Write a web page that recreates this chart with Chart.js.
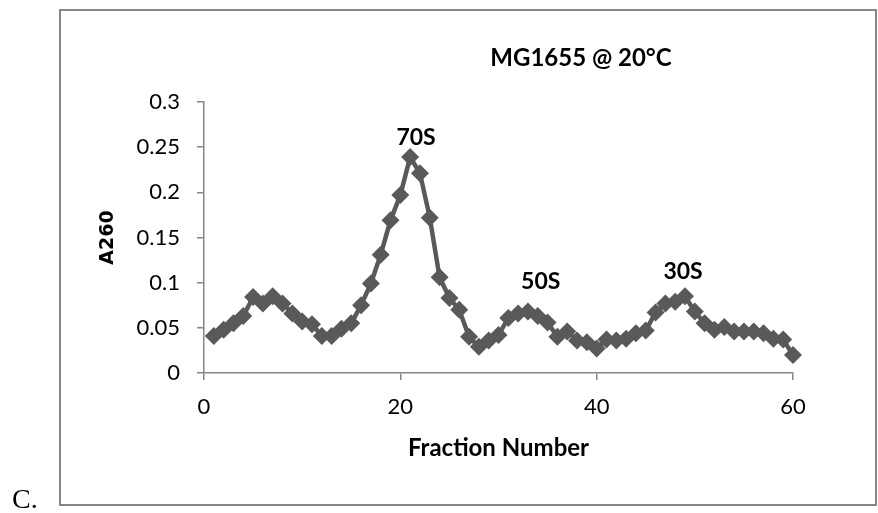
<!DOCTYPE html>
<html>
<head>
<meta charset="utf-8">
<script src="https://cdn.jsdelivr.net/npm/chart.js@4.4.1/dist/chart.umd.min.js"></script>
<style>
  body { margin: 0; background: #fff; }
</style>
</head>
<body>
<canvas id="myChart" width="878" height="513"></canvas>
<script>
// sucrose gradient profile, MG1655 @ 20°C
const fractions = [1, 2, 3, 4, 5, 6, 7, 8, 9, 10,
                   11, 12, 13, 14, 15, 16, 17, 18, 19, 20,
                   21, 22, 23, 24, 25, 26, 27, 28, 29, 30,
                   31, 32, 33, 34, 35, 36, 37, 38, 39, 40,
                   41, 42, 43, 44, 45, 46, 47, 48, 49, 50,
                   51, 52, 53, 54, 55, 56, 57, 58, 59, 60];
const a260 = [0.041, 0.048, 0.055, 0.063, 0.084, 0.077, 0.085, 0.077, 0.066, 0.057,
              0.054, 0.041, 0.041, 0.049, 0.055, 0.075, 0.099, 0.131, 0.169, 0.197,
              0.239, 0.221, 0.172, 0.106, 0.083, 0.070, 0.040, 0.029, 0.036, 0.042,
              0.061, 0.066, 0.068, 0.063, 0.056, 0.040, 0.046, 0.036, 0.034, 0.027,
              0.037, 0.036, 0.038, 0.044, 0.047, 0.067, 0.077, 0.079, 0.085, 0.068,
              0.055, 0.048, 0.051, 0.046, 0.046, 0.046, 0.044, 0.038, 0.037, 0.020];

const xTicks = [0, 20, 40, 60];
const yTicks = [0, 0.05, 0.1, 0.15, 0.2, 0.25, 0.3];

const peakNames = ['70S', '50S', '30S'];
const peakX = [21.6, 34.3, 48.8];
const peakY = [0.261, 0.101, 0.112];

const grey = '#595959';
const axisGrey = '#868686';

const extras = {
    id: 'extras',
    beforeDraw(chart) {
        const ctx = chart.ctx;
        ctx.save();
        ctx.fillStyle = '#fff';
        ctx.fillRect(0, 0, chart.width, chart.height);
        // frame round the chart
        ctx.strokeStyle = axisGrey;
        ctx.lineWidth = 2;
        ctx.strokeRect(60, 10, 816, 495);
        ctx.fillStyle = '#000';
        ctx.font = '28px "Liberation Serif"';
        ctx.textAlign = 'left';
        ctx.textBaseline = 'alphabetic';
        ctx.fillText('C.', 12, 508);
        ctx.font = 'bold 24px Lato';
        ctx.textAlign = 'center';
        ctx.textBaseline = 'middle';
        ctx.fillText('MG1655 @ 20°C', 581, 58);
        ctx.restore();
    },
    afterDatasetsDraw(chart) {
        const ctx = chart.ctx;
        const xs = chart.scales.x, ys = chart.scales.y;
        ctx.save();
        ctx.fillStyle = '#000';
        ctx.font = 'bold 23px Lato';
        ctx.textAlign = 'center';
        ctx.textBaseline = 'middle';
        peakNames.forEach((name, i) => {
            ctx.fillText(name, xs.getPixelForValue(peakX[i]), ys.getPixelForValue(peakY[i]));
        });
        ctx.restore();
    }
};

const ctx = document.getElementById('myChart');

new Chart(ctx, {
    type: 'line',
    data: {
        datasets: [{
            data: fractions.map((f, i) => ({ x: f, y: a260[i] })),
            borderColor: grey,
            backgroundColor: grey,
            borderWidth: 4.5,
            tension: 0,
            clip: false,
            pointStyle: 'rectRot',
            pointRadius: 9,
            pointBackgroundColor: grey,
            pointBorderColor: grey,
            pointBorderWidth: 0
        }]
    },
    options: {
        responsive: false,
        animation: false,
        layout: { padding: { left: 60, top: 102, right: 85, bottom: 0 } },
        plugins: {
            legend: { display: false },
            tooltip: { enabled: false }
        },
        scales: {
            x: {
                type: 'linear',
                min: 0,
                max: 60,
                afterBuildTicks: s => { s.ticks = xTicks.map(v => ({ value: v })); },
                afterFit: s => { s.height = 140; },
                grid: { drawOnChartArea: false, drawTicks: true, tickLength: 7, color: axisGrey, lineWidth: 1.5 },
                border: { color: axisGrey, width: 1.5 },
                ticks: { color: '#000', font: { family: 'Lato', size: 22 }, padding: 14 },
                title: {
                    display: true,
                    text: 'Fraction Number',
                    color: '#000',
                    font: { family: 'Lato', size: 24, weight: 'bold' },
                    padding: { top: 0, bottom: 50 }
                }
            },
            y: {
                min: 0,
                max: 0.3,
                afterBuildTicks: s => { s.ticks = yTicks.map(v => ({ value: v })); },
                afterFit: s => { s.width = 144; },
                grid: { drawOnChartArea: false, drawTicks: true, tickLength: 7, color: axisGrey, lineWidth: 1.5 },
                border: { color: axisGrey, width: 1.5 },
                ticks: { color: '#000', font: { family: 'Lato', size: 22 }, padding: 17, callback: v => String(v) },
                title: {
                    display: true,
                    text: 'A260',
                    color: '#000',
                    font: { family: 'DejaVu Sans', size: 19, weight: 'bold' },
                    padding: { top: 37, bottom: 0 }
                }
            }
        }
    },
    plugins: [extras]
});
</script>
</body>
</html>
